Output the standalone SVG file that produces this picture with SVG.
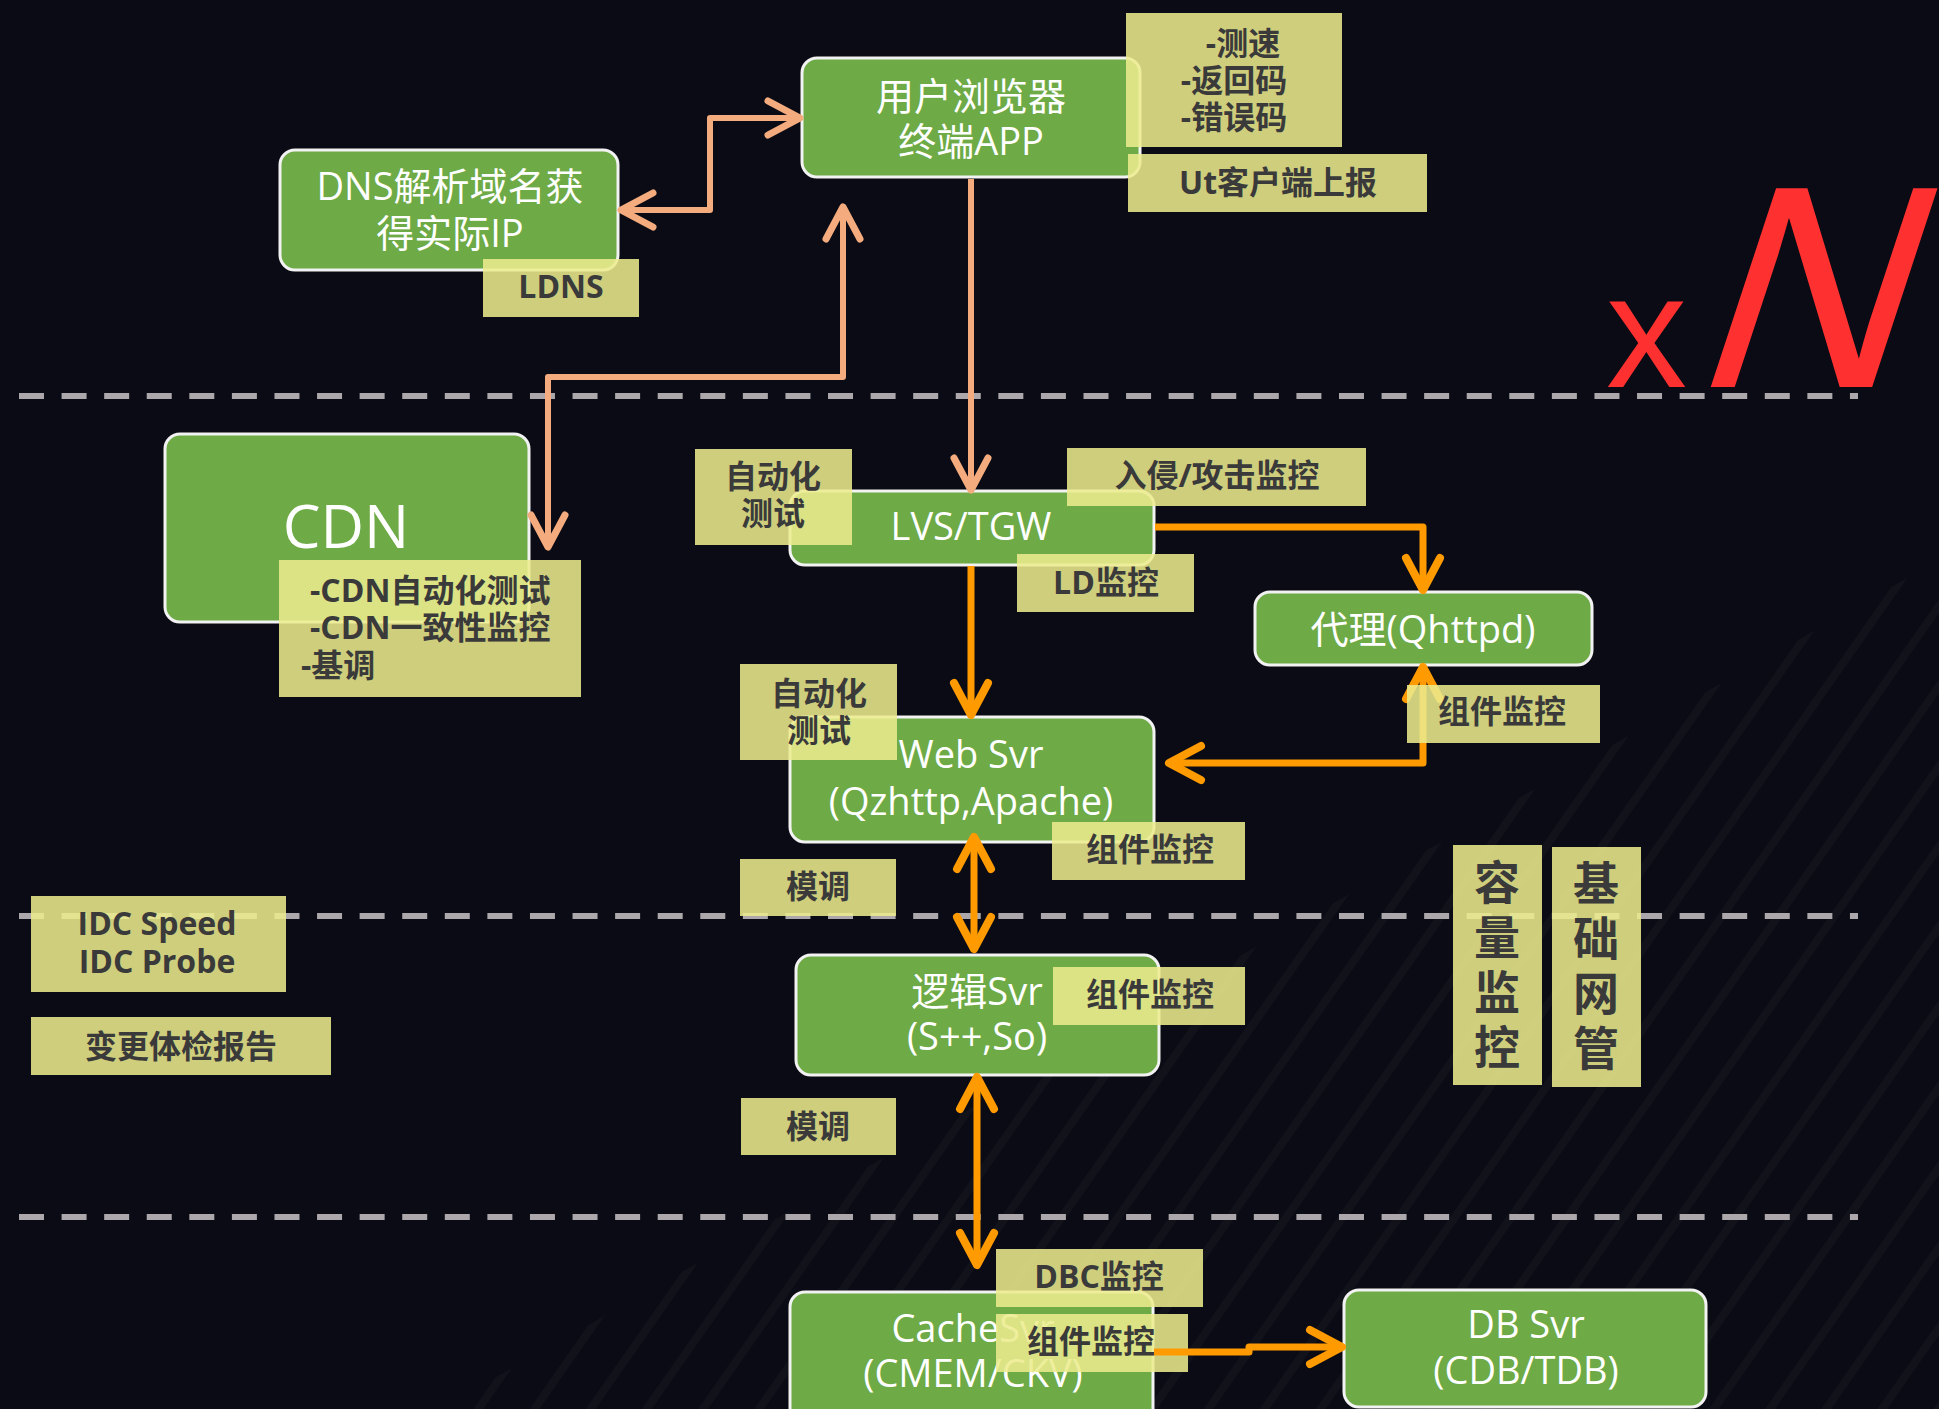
<svg xmlns="http://www.w3.org/2000/svg" width="1939" height="1409" viewBox="0 0 1939 1409">
<defs>
<style>
.node rect{fill:#6EAA46;stroke:#F2F2F2;stroke-width:3}
.nt{fill:#FFFFFF;font-family:'Open Sans','Noto Sans CJK SC',sans-serif;font-size:38px;text-anchor:middle}
.lab rect{fill:#ECEB8D;fill-opacity:0.87}
.lt{fill:#3A3A3A;font-family:'Open Sans','Noto Sans CJK SC',sans-serif;font-weight:700;font-size:32px;text-anchor:middle}
.ls{text-anchor:start}
.vt{font-size:46px}
.dash{stroke:#ABA7AA;stroke-width:6;stroke-dasharray:25 17.58;fill:none}
.cs{fill:none;stroke:#F4AB7E;stroke-width:6;stroke-linejoin:round;marker-end:url(#mS)}
.co{fill:none;stroke:#FF9A00;stroke-width:7;stroke-linejoin:round;marker-end:url(#mO)}
.both.cs{marker-start:url(#mS)}
.both.co{marker-start:url(#mO)}
.red{fill:#FF3030;font-family:'Liberation Sans',Arial,sans-serif}
</style>
<marker id="mS" markerUnits="userSpaceOnUse" viewBox="0 0 80 80" refX="40" refY="40" markerWidth="80" markerHeight="80" orient="auto-start-reverse">
<path d="M8,23 L40,40 L8,57" fill="none" stroke="#F4AB7E" stroke-width="7" stroke-linecap="round" stroke-linejoin="round"/>
</marker>
<marker id="mO" markerUnits="userSpaceOnUse" viewBox="0 0 80 80" refX="40" refY="40" markerWidth="80" markerHeight="80" orient="auto-start-reverse">
<path d="M8,23 L40,40 L8,57" fill="none" stroke="#FF9A00" stroke-width="8" stroke-linecap="round" stroke-linejoin="round"/>
</marker>
<pattern id="stripes" patternUnits="userSpaceOnUse" width="46" height="46" patternTransform="rotate(35)">
<rect x="0" y="0" width="8" height="46" fill="#FFFFFF" fill-opacity="0.028"/>
</pattern>
</defs>

<rect x="0" y="0" width="1939" height="1409" fill="#0A0B14"/>
<polygon points="440,1409 1939,560 1939,1409" fill="url(#stripes)"/>

<g id="separators">
<line class="dash" x1="19" y1="396" x2="1858" y2="396"/>
<line class="dash" x1="19" y1="916" x2="1858" y2="916"/>
<line class="dash" x1="19" y1="1217" x2="1858" y2="1217"/>
</g>

<g id="n-browser" class="node">
<rect x="802" y="58" width="338" height="119" rx="15"/>
<text class="nt" x="971" y="110">用户浏览器</text>
<text class="nt" x="971" y="155">终端APP</text>
</g>
<g id="n-dns" class="node">
<rect x="280" y="150" width="338" height="120" rx="15"/>
<text class="nt" x="450" y="200">DNS解析域名获</text>
<text class="nt" x="450" y="247">得实际IP</text>
</g>
<g id="n-cdn" class="node">
<rect x="165" y="434" width="364" height="188" rx="15"/>
<text class="nt" x="346" y="548" style="font-size:60px">CDN</text>
</g>
<g id="n-lvs" class="node">
<rect x="790" y="491" width="364" height="74" rx="15"/>
<text class="nt" x="971" y="540">LVS/TGW</text>
</g>
<g id="n-proxy" class="node">
<rect x="1255" y="592" width="337" height="73" rx="15"/>
<text class="nt" x="1423" y="643">代理(Qhttpd)</text>
</g>
<g id="n-web" class="node">
<rect x="790" y="717" width="364" height="125" rx="15"/>
<text class="nt" x="971" y="768">Web Svr</text>
<text class="nt" x="971" y="815">(Qzhttp,Apache)</text>
</g>
<g id="n-logic" class="node">
<rect x="796" y="955" width="363" height="120" rx="15"/>
<text class="nt" x="977" y="1005">逻辑Svr</text>
<text class="nt" x="977" y="1050">(S++,So)</text>
</g>
<g id="n-cache" class="node">
<rect x="790" y="1292" width="363" height="140" rx="15"/>
<text class="nt" x="973" y="1342">CacheSvr</text>
<text class="nt" x="973" y="1387">(CMEM/CKV)</text>
</g>
<g id="n-db" class="node">
<rect x="1344" y="1290" width="362" height="117" rx="15"/>
<text class="nt" x="1526" y="1338">DB Svr</text>
<text class="nt" x="1526" y="1384">(CDB/TDB)</text>
</g>

<g id="l-cache-comp" class="lab">
<rect x="996" y="1314" width="192" height="58"/>
<text class="lt" x="1091" y="1353">组件监控</text>
</g>

<g id="connectors">
<path class="cs both" d="M621,210 H710 V118 H800"/>
<path class="cs both" d="M843,207 V377 H548 V547"/>
<path class="cs" d="M971,179 V490"/>
<path class="co" d="M1155,527 H1423 V590"/>
<path class="co" d="M971,566 V715"/>
<path class="co both" d="M1423,667 V763 H1169"/>
<path class="co both" d="M974,837 V949"/>
<path class="co both" d="M977,1077 V1265"/>
<path class="co" d="M1154,1352 H1249 V1347 H1342"/>
</g>

<g id="l-speed" class="lab">
<rect x="1126" y="13" width="216" height="134"/>
<text class="lt" x="1243" y="55">-测速</text>
<text class="lt" x="1234" y="92">-返回码</text>
<text class="lt" x="1234" y="129">-错误码</text>
</g>
<g id="l-ut" class="lab">
<rect x="1128" y="154" width="299" height="58"/>
<text class="lt" x="1278" y="194">Ut客户端上报</text>
</g>
<g id="l-ldns" class="lab">
<rect x="483" y="259" width="156" height="58"/>
<text class="lt" x="561" y="298">LDNS</text>
</g>
<g id="l-cdn" class="lab">
<rect x="279" y="560" width="302" height="137"/>
<text class="lt ls" x="310" y="602">-CDN自动化测试</text>
<text class="lt ls" x="310" y="639">-CDN一致性监控</text>
<text class="lt ls" x="301" y="677">-基调</text>
</g>
<g id="l-auto1" class="lab">
<rect x="695" y="449" width="157" height="96"/>
<text class="lt" x="773" y="488">自动化</text>
<text class="lt" x="773" y="525">测试</text>
</g>
<g id="l-attack" class="lab">
<rect x="1067" y="448" width="299" height="58"/>
<text class="lt" x="1217" y="487">入侵/攻击监控</text>
</g>
<g id="l-ld" class="lab">
<rect x="1017" y="554" width="177" height="58"/>
<text class="lt" x="1106" y="594">LD监控</text>
</g>
<g id="l-proxy-comp" class="lab">
<rect x="1407" y="685" width="193" height="58"/>
<text class="lt" x="1502" y="723">组件监控</text>
</g>
<g id="l-auto2" class="lab">
<rect x="740" y="664" width="157" height="96"/>
<text class="lt" x="819" y="705">自动化</text>
<text class="lt" x="819" y="742">测试</text>
</g>
<g id="l-web-comp" class="lab">
<rect x="1052" y="822" width="193" height="58"/>
<text class="lt" x="1150" y="861">组件监控</text>
</g>
<g id="l-mod1" class="lab">
<rect x="740" y="859" width="156" height="57"/>
<text class="lt" x="818" y="898">模调</text>
</g>
<g id="l-logic-comp" class="lab">
<rect x="1053" y="967" width="192" height="58"/>
<text class="lt" x="1150" y="1006">组件监控</text>
</g>
<g id="l-mod2" class="lab">
<rect x="741" y="1098" width="155" height="57"/>
<text class="lt" x="818" y="1138">模调</text>
</g>
<g id="l-dbc" class="lab">
<rect x="996" y="1249" width="207" height="58"/>
<text class="lt" x="1099" y="1288">DBC监控</text>
</g>
<g id="l-capacity" class="lab">
<rect x="1453" y="845" width="89" height="240"/>
<text class="lt vt" x="1497" y="899">容</text>
<text class="lt vt" x="1497" y="954">量</text>
<text class="lt vt" x="1497" y="1009">监</text>
<text class="lt vt" x="1497" y="1064">控</text>
</g>
<g id="l-network" class="lab">
<rect x="1552" y="847" width="89" height="240"/>
<text class="lt vt" x="1596" y="900">基</text>
<text class="lt vt" x="1596" y="955">础</text>
<text class="lt vt" x="1596" y="1010">网</text>
<text class="lt vt" x="1596" y="1065">管</text>
</g>
<g id="l-idc" class="lab">
<rect x="31" y="896" width="255" height="96"/>
<text class="lt" x="157" y="935">IDC Speed</text>
<text class="lt" x="157" y="973">IDC Probe</text>
</g>
<g id="l-report" class="lab">
<rect x="31" y="1017" width="300" height="58"/>
<text class="lt" x="181" y="1058">变更体检报告</text>
</g>

<g id="xN">
<text class="red" x="1606" y="387" style="font-size:162px">x</text>
<text class="red" transform="translate(1709,387) skewX(-18.2)" x="-22" y="0" style="font-size:289px">N</text>
</g>
</svg>
